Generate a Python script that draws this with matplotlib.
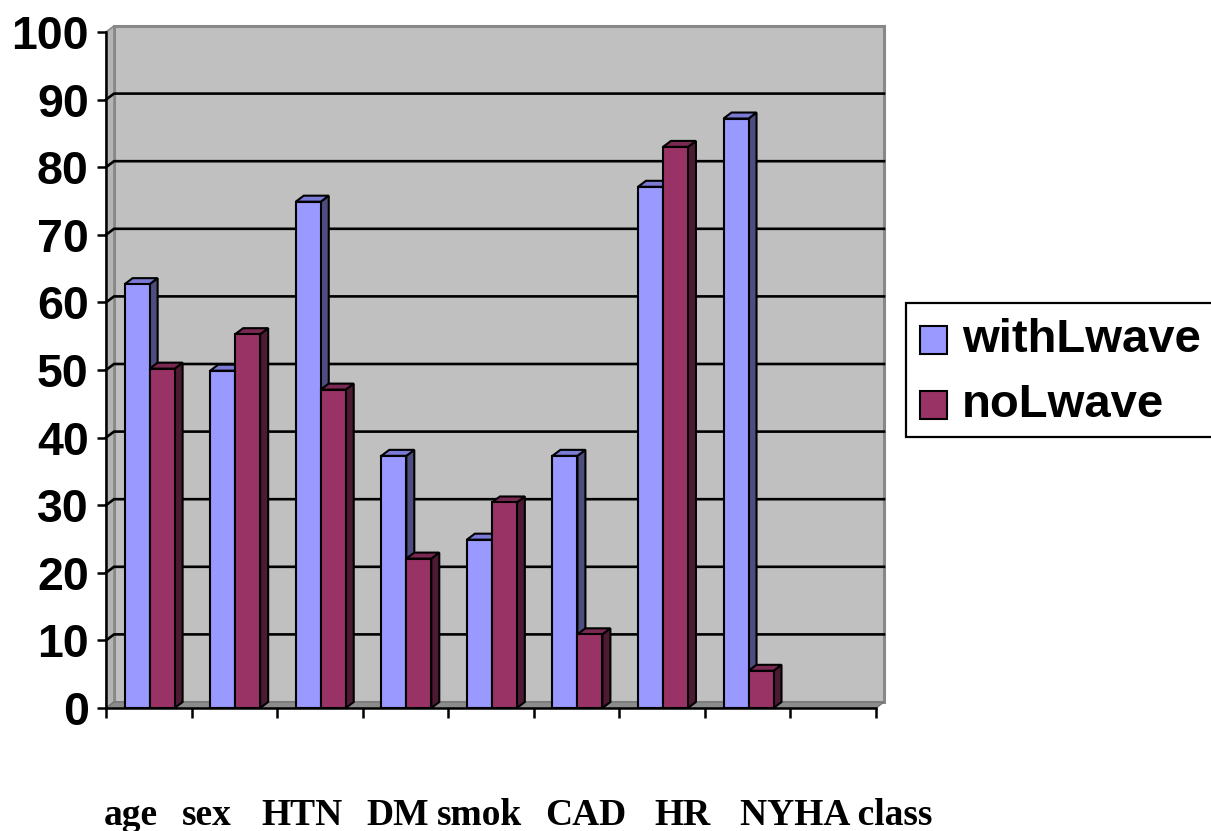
import numpy as np
import matplotlib
matplotlib.use("Agg")
import matplotlib.pyplot as plt
from matplotlib.patches import Polygon, Rectangle
from matplotlib.transforms import IdentityTransform

# ---- data -------------------------------------------------------------
categories = ["age", "sex", "HTN", "DM", "smok", "CAD", "HR", "NYHA class", ""]
series_names = ["withLwave", "noLwave"]
with_lwave = [62.7, 49.9, 74.9, 37.3, 24.9, 37.3, 77.1, 87.2]
no_lwave = [50.2, 55.3, 47.1, 22.1, 30.4, 10.9, 83.0, 5.5]
y_ticks = [0, 10, 20, 30, 40, 50, 60, 70, 80, 90, 100]

# ---- style ------------------------------------------------------------
W, H, DPI = 1211, 831, 100
front_colors = ["#9999FF", "#993366"]
side_colors = ["#4D4D80", "#4D1A33"]
top_colors = ["#7B7BD6", "#7A2952"]
wall_color = "#C0C0C0"
wall_edge = "#888888"
sans = "Liberation Sans"
serif = "Liberation Serif"
DEPTH = np.array([8.0, 6.0])   # 3-D depth offset in pixels (right, up)
bar_w = 0.292

fig = plt.figure(figsize=(W / DPI, H / DPI), dpi=DPI)
fig.patch.set_facecolor("white")
ax = fig.add_axes([106 / W, (H - 708) / H, 770 / W, 676 / H])
n_cat = len(categories)
ax.set_xlim(0, n_cat)
ax.set_ylim(0, 100)
ax.patch.set_visible(False)

ident = IdentityTransform()


def pt(x, y, z=0.0):
    """Data point (x, y) pushed back by depth fraction z, in display pixels."""
    return ax.transData.transform((x, y)) + z * DEPTH


def poly(points, fc, ec, lw, zorder):
    p = Polygon(points, closed=True, facecolor=fc, edgecolor=ec, linewidth=lw,
                transform=ident, clip_on=False, zorder=zorder, joinstyle="miter")
    ax.add_patch(p)
    return p


# back wall
poly([pt(0, 0, 1), pt(n_cat, 0, 1), pt(n_cat, 100, 1), pt(0, 100, 1)],
     wall_color, wall_edge, 2.2, 0.1)
# left side wall
poly([pt(0, 0, 0), pt(0, 100, 0), pt(0, 100, 1), pt(0, 0, 1)],
     "#B4B4B4", wall_edge, 1.2, 0.2)
# floor
poly([pt(0, 0, 0), pt(n_cat, 0, 0), pt(n_cat, 0, 1), pt(0, 0, 1)],
     "#8C8C8C", "#777777", 1.0, 0.3)

# gridlines on the back wall and the left side wall
for v in y_ticks[1:-1]:
    a, b, c = pt(0, v, 0), pt(0, v, 1), pt(n_cat, v, 1)
    ax.add_line(plt.Line2D([a[0], b[0], c[0]], [a[1], b[1], c[1]],
                           color="black", lw=1.9, transform=ident,
                           clip_on=False, zorder=0.5))

# bars: front faces from ax.bar, side and top faces from the same values
centers = np.arange(len(with_lwave)) + 0.51
series = [with_lwave, no_lwave]
containers = []
for s, vals in enumerate(series):
    lefts = centers - bar_w + s * bar_w
    cont = ax.bar(lefts, vals, width=bar_w, align="edge",
                  color=front_colors[s], edgecolor="black", linewidth=1.5,
                  label=series_names[s])
    containers.append(cont)

for i in range(len(with_lwave)):
    for s, vals in enumerate(series):
        base = 2 + i * 4 + s * 2
        rect = containers[s].patches[i]
        x0 = rect.get_x()
        x1 = x0 + rect.get_width()
        v = vals[i]
        poly([pt(x1, 0, 0), pt(x1, 0, 1), pt(x1, v, 1), pt(x1, v, 0)],
             side_colors[s], "black", 1.5, base)
        poly([pt(x0, v, 0), pt(x1, v, 0), pt(x1, v, 1), pt(x0, v, 1)],
             top_colors[s], "black", 1.5, base)
        rect.set_zorder(base + 1)
        rect.set_joinstyle("miter")

# axes lines and ticks
for side in ("top", "right"):
    ax.spines[side].set_visible(False)
for side in ("left", "bottom"):
    ax.spines[side].set_color("black")
    ax.spines[side].set_linewidth(1.8)
    ax.spines[side].set_zorder(60)
ax.set_yticks(y_ticks)
ax.set_yticklabels([str(t) for t in y_ticks], fontfamily=sans,
                   fontweight="bold", fontsize=33.5)
ax.tick_params(axis="y", direction="out", length=6.5, width=1.8, pad=6,
               colors="black")
ax.set_xticks(np.arange(n_cat + 1))
ax.set_xticklabels([])
ax.tick_params(axis="x", direction="out", length=7, width=1.8)

# category labels along the bottom
label_left_px = [104, 182, 261, 366, 437, 545, 654, 740]
for name, xl in zip(categories, label_left_px):
    fig.text(xl / W, 1 - 825 / H, name, fontfamily=serif, fontweight="bold",
             fontsize=27, ha="left", va="baseline")

# legend box
fig.add_artist(Rectangle((906 / W, 1 - 437 / H), 320 / W, 134 / H,
                         transform=fig.transFigure, facecolor="white",
                         edgecolor="black", linewidth=1.6, clip_on=False))
for s, name in enumerate(series_names):
    yc = 340 + s * 65
    fig.add_artist(Rectangle((920 / W, 1 - (yc + 14) / H), 27 / W, 28 / H,
                             transform=fig.transFigure,
                             facecolor=front_colors[s], edgecolor="black",
                             linewidth=1.5))
    fig.text(962 / W, 1 - yc / H, name, fontfamily=sans, fontweight="bold",
             fontsize=34, ha="left", va="center")

fig.savefig("out.png", dpi=DPI)
